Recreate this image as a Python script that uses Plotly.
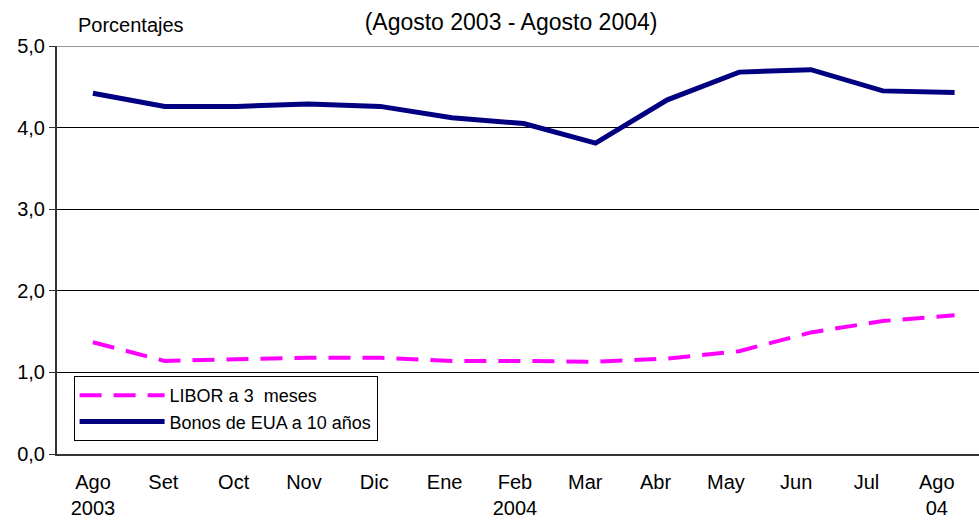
import plotly.graph_objects as go

months = ["Ago<br>2003", "Set", "Oct", "Nov", "Dic", "Ene", "Feb<br>2004",
          "Mar", "Abr", "May", "Jun", "Jul", "Ago<br>04"]
libor = [1.37, 1.14, 1.16, 1.18, 1.18, 1.14, 1.14, 1.13, 1.17, 1.26, 1.49, 1.63, 1.70]
bonos = [4.42, 4.26, 4.26, 4.29, 4.26, 4.12, 4.05, 3.81, 4.34, 4.68, 4.71, 4.45, 4.43]
y_ticks = [0, 1, 2, 3, 4, 5]

idx = list(range(len(months)))

fig = go.Figure()
fig.add_trace(go.Scatter(x=idx, y=libor, mode="lines", name="LIBOR a 3  meses",
                         line=dict(color="#FF00FF", width=4, dash="22px,12px")))
fig.add_trace(go.Scatter(x=idx, y=bonos, mode="lines", name="Bonos de EUA a 10 años",
                         line=dict(color="#000080", width=5)))
# invisible helper trace so the label axis is drawn
fig.add_trace(go.Scatter(x=idx, y=libor, xaxis="x2", mode="markers",
                         marker=dict(opacity=0), showlegend=False, hoverinfo="skip"))

font = "Liberation Sans, Arial, sans-serif"
fig.update_layout(
    width=979, height=520,
    margin=dict(l=57, r=0, t=46, b=66),
    paper_bgcolor="white", plot_bgcolor="white",
    separators=",.",
    font=dict(family=font, size=20, color="black"),
    showlegend=True,
    legend=dict(x=0.018, y=(454 - 376) / 408, xanchor="left", yanchor="top",
                bgcolor="white", bordercolor="black", borderwidth=1,
                font=dict(size=18, family=font), tracegroupgap=0,
                itemwidth=85),
    title=dict(text="(Agosto 2003 - Agosto 2004)", x=0.522, xanchor="center",
               y=1 - 22 / 520, yanchor="middle", font=dict(size=23, family=font)),
    xaxis=dict(range=[-0.5, 12.34], showgrid=False, showticklabels=False,
               showline=True, linecolor="#333", linewidth=2, ticks="",
               zeroline=False, automargin=False),
    xaxis2=dict(overlaying="x", side="bottom", anchor="y", range=[-0.512, 12.6],
                tickvals=idx, ticktext=months, showgrid=False, showline=False,
                ticks="", tickfont=dict(size=20), ticklabelstandoff=14,
                zeroline=False, automargin=False),
    yaxis=dict(range=[0, 5], tickvals=y_ticks, tickformat=".1f",
               showgrid=True, gridcolor="black", gridwidth=1,
               showline=True, linecolor="#333", linewidth=2,
               ticks="outside", ticklen=6, tickcolor="#333",
               tickfont=dict(size=20), zeroline=False, automargin=False),
    annotations=[dict(text="Porcentajes", xref="paper", yref="paper",
                      x=(76 - 57) / 922, y=(454 - 25) / 408, xanchor="left",
                      yanchor="middle", showarrow=False, font=dict(size=20))],
    shapes=[dict(type="line", xref="paper", yref="y", x0=0, x1=1, y0=5, y1=5,
                 line=dict(color="#999", width=2), layer="above")],
)
fig.write_html("out.html", config={"displayModeBar": False},
               post_script="document.body.style.margin='0';document.body.style.overflow='hidden';")
